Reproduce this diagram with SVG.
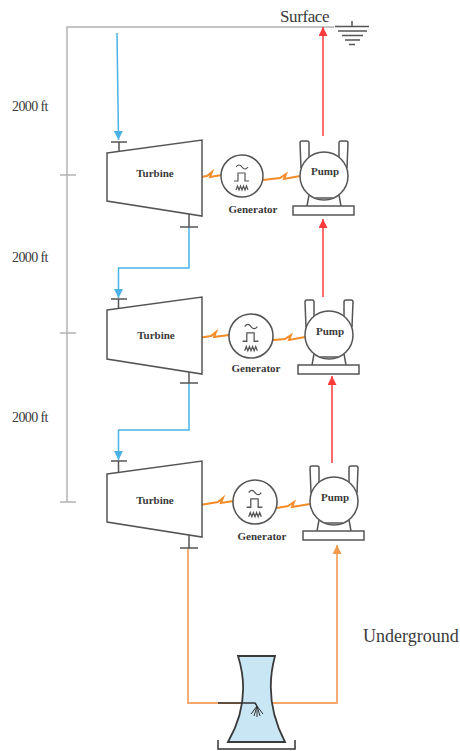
<svg xmlns="http://www.w3.org/2000/svg" width="460" height="751" viewBox="0 0 460 751">
  <style>
    .frame { stroke: #b3b3b3; stroke-width: 1.5; fill: none; }
    .outline { stroke: #555; stroke-width: 1.5; fill: #fff; }
    .stub { stroke: #555; stroke-width: 1.5; fill: none; }
    .water { stroke: #4ab2e6; stroke-width: 1.5; fill: none; }
    .lift { stroke: #ff3b3b; stroke-width: 1.5; fill: none; }
    .return { stroke: #f4a66a; stroke-width: 1.8; fill: none; }
    .power { stroke: #f28c28; stroke-width: 2; fill: none; stroke-linejoin: miter; }
    .sym { stroke: #555; stroke-width: 1.2; fill: none; }
    .lbl { font-family: "Liberation Serif", "Times New Roman", serif; fill: #3a3a3a; }
    .bold { font-weight: bold; font-size: 11px; text-anchor: middle; }
    .depth { font-size: 14px; letter-spacing: -0.6px; }
  </style>
  <defs>
    <marker id="headBlue" viewBox="0 0 10 10" refX="10" refY="5" markerWidth="9" markerHeight="9" markerUnits="userSpaceOnUse" orient="auto">
      <path d="M0,0 L10,5 L0,10 z" fill="#4ab2e6"/>
    </marker>
    <marker id="headRed" viewBox="0 0 10 10" refX="10" refY="5" markerWidth="9" markerHeight="9" markerUnits="userSpaceOnUse" orient="auto">
      <path d="M0,0 L10,5 L0,10 z" fill="#ff3b3b"/>
    </marker>
    <marker id="headOrange" viewBox="0 0 10 10" refX="10" refY="5" markerWidth="9" markerHeight="9" markerUnits="userSpaceOnUse" orient="auto">
      <path d="M0,0 L10,5 L0,10 z" fill="#f39a4e"/>
    </marker>
    <g id="pumpShape">
      <path class="stub" d="M-23,-8 L-24,-33 Q-24,-35 -22,-35 L-17,-35 Q-15,-35 -15,-33 L-15,-18"/>
      <path class="stub" d="M23,-8 L24,-33 Q24,-35 22,-35 L17,-35 Q15,-35 15,-33 L15,-18"/>
      <circle class="outline" cx="0" cy="0" r="24"/>
      <path class="stub" d="M-15,19 L-17,30 M15,19 L17,30 M-9,22 L9,22"/>
      <rect class="outline" x="-31" y="30" width="61" height="9"/>
    </g>
    <g id="genShape">
      <circle class="outline" cx="0" cy="0" r="21"/>
      <path class="sym" d="M-6,-9 Q-3,-13 0,-9 T6,-9"/>
      <path class="sym" d="M-8,5 L-4,5 L-4,-3 L3,-3 L3,5 L7,5"/>
      <path class="sym" stroke-width="1" d="M-6,14 L-4.5,10 L-3,14 L-1.5,10 L0,14 L1.5,10 L3,14 L4.5,10 L6,14"/>
    </g>
  </defs>

  <!-- depth scale and surface line -->
  <g id="scale">
    <path class="frame" d="M67,502 L67,27 L334,27"/>
    <path class="frame" d="M60,175 L76,175 M60,333 L76,333 M60,502 L76,502"/>
    <text class="lbl depth" x="12" y="111">2000 ft</text>
    <text class="lbl depth" x="12" y="262">2000 ft</text>
    <text class="lbl depth" x="12" y="422">2000 ft</text>
  </g>

  <g id="surface">
    <text class="lbl" x="280" y="22" font-size="17" letter-spacing="-0.4">Surface</text>
    <path class="stub" d="M352,21 L352,26 M335,26.5 L369,26.5 M338,31 L367,31 M342,35.5 L363,35.5 M345,40 L360,40 M349,44.5 L355,44.5"/>
  </g>

  <!-- flow connectors -->
  <g id="connectors">
    <!-- inflow from surface down through the turbines -->
    <path class="water" d="M117,33 L118.5,140" marker-end="url(#headBlue)"/>
    <path class="water" d="M189,227 L189,268 L118.5,268 L118.5,298" marker-end="url(#headBlue)"/>
    <path class="water" d="M189,383 L189,430 L118.5,430 L118.5,460" marker-end="url(#headBlue)"/>
    <!-- pumped flow back to surface -->
    <path class="lift" d="M323,136 L323,27" marker-end="url(#headRed)"/>
    <path class="lift" d="M323,297 L323,219" marker-end="url(#headRed)"/>
    <path class="lift" d="M332,463 L332,376" marker-end="url(#headRed)"/>
    <!-- return loop through the cooling tower -->
    <path class="return" d="M188,548 L188,703 L337,703 L337,545" marker-end="url(#headOrange)"/>
    <!-- shaft power links -->
    <path class="power" d="M188,179 L207,176 L212,172 L210,177 L222,175"/>
    <path class="power" d="M263,180 L280,178 L286,174 L284,179 L300,176"/>
    <path class="power" d="M192,339 L211,336 L216,332 L214,337 L229,335"/>
    <path class="power" d="M273,340 L285,339 L291,335 L289,340 L305,337"/>
    <path class="power" d="M200,505 L218,502 L223,498 L221,503 L233,501"/>
    <path class="power" d="M277,508 L288,506 L294,502 L292,507 L310,504"/>
  </g>

  <!-- turbines -->
  <g id="turbine-1">
    <polygon class="outline" points="107,153 202,140 202,216 107,201" fill="none"/>
    <path class="stub" d="M119,142 L119,152 M111,142 L127,142 M189,214 L189,227 M180,227 L198,227"/>
    <text class="lbl bold" x="155" y="177">Turbine</text>
  </g>
  <g id="turbine-2">
    <polygon class="outline" points="107,310 202,297 202,374 107,359" fill="none"/>
    <path class="stub" d="M118.5,299 L118.5,309 M111,299 L127,299 M189,372 L189,383 M180,383 L198,383"/>
    <text class="lbl bold" x="156" y="339">Turbine</text>
  </g>
  <g id="turbine-3">
    <polygon class="outline" points="107,474 202,461 202,537 107,522" fill="none"/>
    <path class="stub" d="M118.5,461 L118.5,473 M111,461 L127,461 M189,535 L189,548 M180,548 L198,548"/>
    <text class="lbl bold" x="155" y="504">Turbine</text>
  </g>

  <!-- generators -->
  <g id="generator-1">
    <use href="#genShape" transform="translate(242,176)"/>
    <text class="lbl bold" x="253" y="213">Generator</text>
  </g>
  <g id="generator-2">
    <use href="#genShape" transform="translate(251,336) scale(1.05)"/>
    <text class="lbl bold" x="256" y="372">Generator</text>
  </g>
  <g id="generator-3">
    <use href="#genShape" transform="translate(255,502) scale(1.05)"/>
    <text class="lbl bold" x="262" y="540">Generator</text>
  </g>

  <!-- pumps -->
  <g id="pump-1">
    <use href="#pumpShape" transform="translate(324,176)"/>
    <text class="lbl bold" x="325" y="175">Pump</text>
  </g>
  <g id="pump-2">
    <use href="#pumpShape" transform="translate(329,335)"/>
    <text class="lbl bold" x="330" y="335">Pump</text>
  </g>
  <g id="pump-3">
    <use href="#pumpShape" transform="translate(334,501)"/>
    <text class="lbl bold" x="335" y="501">Pump</text>
  </g>

  <!-- cooling tower with spray feed and basin -->
  <g id="cooling-tower">
    <path d="M238,656 L275,656 Q263,700 285,742 L228,742 Q252,700 238,656 Z" fill="#c9e6f4" stroke="#3a3a3a" stroke-width="1.8"/>
    <path d="M218,703 L255,703 L257,706" fill="none" stroke="#333" stroke-width="1.5"/>
    <path d="M257,706 L251,714 M257,706 L254,716 M257,706 L257,717 M257,706 L260,716 M257,706 L263,714" fill="none" stroke="#333" stroke-width="1"/>
    <path d="M218,740 L218,749 L295,749 L295,740" fill="none" stroke="#333" stroke-width="1.5"/>
  </g>

  <text class="lbl" x="363" y="642" font-size="18">Underground</text>
</svg>
